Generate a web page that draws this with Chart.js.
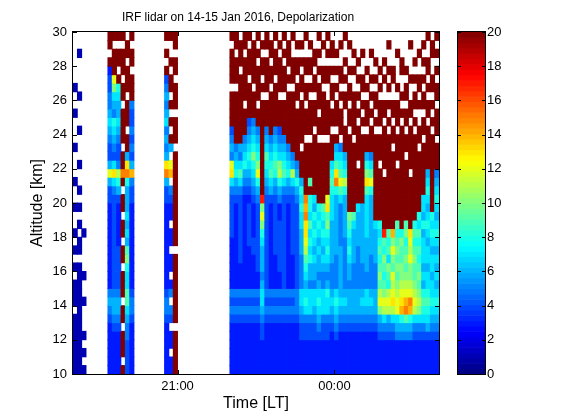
<!DOCTYPE html>
<html>
<head>
<meta charset="utf-8">
<title>IRF lidar depolarization</title>
<script src="https://cdn.jsdelivr.net/npm/chart.js@4.4.1/dist/chart.umd.min.js"></script>
<style>
    html, body { margin: 0; padding: 0; background: #fff; }
</style>
</head>
<body>
<canvas id="canvas" width="561" height="420"></canvas>
<script>
(function () {
    var titleText = 'IRF lidar on 14-15 Jan 2016, Depolarization';

    // time axis: minutes after 19:00 LT, one column every 5 min
    var colStep = 5;
    var spanMinutes = 420;
    var tickMinutes = [120, 300];
    var tickLabels = ['21:00', '00:00'];

    // altitude axis [km]
    var altBottom = 10;
    var altTop = 30;
    var altStep = 0.5;
    var altTickStep = 2;

    // colour scale
    var cbMin = 0;
    var cbMax = 20;
    var cbStep = 2;

    // one profile per 5 min column, 30 km first down to 10 km (40 cells of 0.5 km)
    // '.' = no data, '0'-'9' then 'A'-'K' = depolarization 0 .. 20
    var codes = '0123456789ABCDEFGHIJK';
    var profiles = [
        '......1..1 ...1...1.. 1..1.1.1.1 11.1111111', // 19:00
        '..1....1.. .1...1..1. 1.1.11.111 1111111111',
        '.......... .......... ...1....1. .1...1.1.1',
        '', '', '', '', '',
        'KK.K344556 765446C644 3333333333 5654333333', // 19:40
        'K.KKKCA765 876547D754 4444444444 5665433333',
        'K.KK.K8766 765445B864 3333344444 5665433333',
        'K.KKK.KK.K KKK.KKFK.K K.KK.KK.KK K.KK.KKK.K',
        '.KK.KKK.KK K.KK6DF866 676769A877 9976554444',
        'K.KK.KKK54 454546E544 3333333333 4554333333',
        '', '', '', '', '', '', '',
        'K.K.K45656 75656DF644 3333333333 4554333333', // 20:45
        'K..K.KK.K. K.K6.CE.54 33.33.33.3 5.54.33.33',
        'KK.KK.KKK. KKK.KKKKKK KKKKK.KKKK KKKK.KKKKK',
        '', '', '', '', '', '', '', '', '', '', '', '',
        'K.KKKK.KKK K4565CD754 4444333333 5454333333', // 22:00
        'KK.KKK.KKK KKK5678654 3333333333 5454333333',
        '.KKK.KKKKK KKK6579754 4444444333 5454333333',
        'KK.KKKKK.K KK56786543 3333333333 5454333333',
        'K.KKK.KKKK 4567876543 4444433333 5454333333',
        '.KKKKK.KKK 5678A87654 3333443333 5454333333',
        'K.K.KKKK.K K5678AC865 4444444433 5454333333',
        '.K.KK.K.KK KKKKKKKKKH ACA8766656 7765443333',
        'KK.KKKK.KK K567987654 4444444444 5454333333',
        '.KK.KK.KKK KK56789764 3333333333 5454333333',
        'K.KKK.KKKK K567898654 4444443333 5454333333',
        '.K.KKKK.KK K4567AB865 3344444433 5454333333',
        'K.K.KKK.KK KK56789754 4444444444 5454333333', // 23:00
        '.KKK.K.KKK KKK5678654 3333333333 5454333333',
        'K..KKK.KKK KKKK56B754 4444443333 5454333333',
        '.K.KK.KK.K KKKKK56865 4444444444 5554333333',
        '.K.K.KK.KK KKK.KKK687 8776665555 7765443333',
        'K..KK.KK.K KK.KKKKKKF EFDDCB9876 7875443333',
        '.K.KK.K.KK KK.KKKK9K8 8797878665 7775443333',
        '..KK.KK.KK K.KKKKKKK7 6878767665 7765443333',
        'K.K.K.KKK. KK.KKKKKKK 8787676656 7876543333',
        '.K..KK.KKK KK.KKKKKKK 9878767655 7775443333',
        'K.K.KK..KK KK.KKKKKKC D9A8787656 8775443333',
        '.KK.K.KK.K K.KKK78987 7766666555 6765433333',
        '..K.K.K.KK K.K679DF86 6666665555 7876543333', // 00:00
        '.K..KK.K.K KK.5789C97 5555566666 6765433333',
        'K..K.K.KK. .KKK678B86 6666555555 6765433333',
        '.K..K.KK.K K.KKKKKKKK KA98787665 6665433333',
        '..K.K..KKK KK.KKKKKKK K976666555 6665433333',
        '...K.K.K.K .KKKK.KKKK 7666655555 6665433333',
        '..K..KK.K. K.KKKKKKKK 6666666555 6765433333',
        '....K.K.KK K.KK68AD97 7777666655 7765433333',
        '..K..K.K.K .KKK579C86 6666665555 6765433333',
        '...K.K.KK. K.KKKKKKKK KK76666555 6665433333',
        '....K.K.KK K.KKK.KKKK KK878989A9 BCA6543333',
        '...K.K..KK .KKKKK.KKK KKKH98A989 ACB7543333',
        '.K..K.K.K. K.KKKKKKKK KKK9897A98 BCB6543333', // 01:00
        '....KK..KK .KK.KKKKKK KKKEACA9CB CDB7543333',
        '..K...K.KK K.KKK.KKKK KK989A9A9A BCC7653333',
        '...KK..K.K .KKKKKKKKK KKK8A99AAB CDE8653333',
        '....K.KK.K K.KK.KKKKK KK9A89A9AB CEF9653333',
        '.K...K..KK .KKKKK.KKK KKKDCBCAAB CFE8653333',
        '...K.K.KK. K.KKKKKKKK KK8989A99A BCB7543333',
        '..K..KK.K. .KK.KKKKKK K8798989A9 ABA7543333',
        '.K.K.K.KK. KK.KKKKKK7 7686777676 8987543333',
        'K..KK.K.KK .KKKKK6787 6787677677 8987643333',
        '.KK..KK.K. K.KKKKKKKK K878767767 7876543333',
        'K.K.K.KK.K KK.KKK5678 7678767676 7876543333'
    ];

    var fontFamily = '"Liberation Sans", Arial, sans-serif';

    function jet(v) {
        var t = Math.max(0, Math.min(1, (v - cbMin) / (cbMax - cbMin)));
        function c(x) {
            return Math.round(255 * Math.max(0, Math.min(1, 1.5 - Math.abs(4 * t - x))));
        }
        return 'rgb(' + c(3) + ',' + c(2) + ',' + c(1) + ')';
    }

    function cellColor(c) {
        return c.raw ? jet(c.raw.v) : 'rgba(0,0,0,0)';
    }

    function buildDatasets() {
        var cols = profiles.map(function (p) { return p.replace(/ /g, ''); });
        var nRows = Math.round((altTop - altBottom) / altStep);
        var sets = [];
        for (var r = 0; r < nRows; r++) {
            var hi = altTop - r * altStep;
            var lo = hi - altStep;
            var data = [];
            cols.forEach(function (col, i) {
                var ch = col.charAt(r);
                var v = codes.indexOf(ch);
                if (ch && v >= 0) {
                    data.push({x: i * colStep + colStep / 2, y: [lo, hi], v: v});
                }
            });
            sets.push({
                label: lo + '-' + hi + ' km',
                data: data,
                backgroundColor: cellColor,
                borderColor: cellColor,
                borderWidth: 0,
                grouped: false,
                barPercentage: 1,
                categoryPercentage: 1,
                inflateAmount: 0.4
            });
        }
        return sets;
    }

    var framePlugin = {
        id: 'frame',
        afterDraw: function (chart) {
            var ctx = chart.ctx;
            var a = chart.chartArea;
            var xs = chart.scales.x, ys = chart.scales.y, cb = chart.scales.cb;
            ctx.save();

            // colour bar
            var bx = a.right + 19, bw = 27, n = 64;
            for (var k = 0; k < n; k++) {
                var v0 = cbMin + (cbMax - cbMin) * k / n;
                var v1 = cbMin + (cbMax - cbMin) * (k + 1) / n;
                var p0 = cb.getPixelForValue(v0), p1 = cb.getPixelForValue(v1);
                ctx.fillStyle = jet((v0 + v1) / 2);
                ctx.fillRect(bx, p1, bw, p0 - p1 + 0.6);
            }
            ctx.strokeStyle = '#000';
            ctx.lineWidth = 1;
            ctx.strokeRect(bx - 0.5, cb.top - 0.5, bw + 1, cb.bottom - cb.top + 1);
            ctx.beginPath();
            for (var v = cbMin; v <= cbMax; v += cbStep) {
                var py = Math.round(cb.getPixelForValue(v)) + 0.5;
                ctx.moveTo(bx, py); ctx.lineTo(bx + 3, py);
                ctx.moveTo(bx + bw - 3, py); ctx.lineTo(bx + bw, py);
            }
            ctx.stroke();

            // axes box with inward ticks
            ctx.strokeRect(a.left - 0.5, a.top - 0.5, a.right - a.left + 1, a.bottom - a.top + 1);
            ctx.beginPath();
            for (var t = altBottom; t <= altTop; t += altTickStep) {
                var ty = Math.round(ys.getPixelForValue(t)) + 0.5;
                ctx.moveTo(a.left, ty); ctx.lineTo(a.left + 4, ty);
                ctx.moveTo(a.right - 4, ty); ctx.lineTo(a.right, ty);
            }
            tickMinutes.forEach(function (m) {
                var tx = Math.round(xs.getPixelForValue(m)) + 0.5;
                ctx.moveTo(tx, a.bottom); ctx.lineTo(tx, a.bottom - 4);
                ctx.moveTo(tx, a.top); ctx.lineTo(tx, a.top + 4);
            });
            ctx.stroke();

            // title
            ctx.fillStyle = '#000';
            ctx.font = '12px ' + fontFamily;
            ctx.textAlign = 'center';
            ctx.textBaseline = 'middle';
            ctx.fillText(titleText, 238, 18);
            ctx.restore();
        }
    };

    Chart.defaults.color = '#000';
    Chart.defaults.font.family = fontFamily;

    var ctx = document.getElementById('canvas').getContext('2d');
    var chart = new Chart(ctx, {
        type: 'bar',
        data: {datasets: buildDatasets()},
        options: {
            responsive: false,
            animation: false,
            events: [],
            layout: {padding: {top: 32, left: 0, right: 0, bottom: 0}},
            plugins: {
                colors: {enabled: false},
                legend: {display: false},
                tooltip: {enabled: false},
                title: {display: false}
            },
            scales: {
                x: {
                    type: 'linear',
                    min: 0,
                    max: spanMinutes,
                    offset: false,
                    grid: {display: false, offset: false, drawTicks: false},
                    border: {display: false},
                    afterBuildTicks: function (s) {
                        s.ticks = tickMinutes.map(function (m) { return {value: m}; });
                    },
                    afterFit: function (s) { s.height = 46; },
                    ticks: {
                        autoSkip: false,
                        maxRotation: 0,
                        padding: 5,
                        font: {size: 13},
                        callback: function (v) {
                            var k = tickMinutes.indexOf(v);
                            return k >= 0 ? tickLabels[k] : '';
                        }
                    },
                    title: {
                        display: true,
                        text: 'Time [LT]',
                        font: {size: 16},
                        padding: {top: 0, bottom: 7}
                    }
                },
                y: {
                    type: 'linear',
                    min: altBottom,
                    max: altTop,
                    beginAtZero: false,
                    grid: {display: false, drawTicks: false},
                    border: {display: false},
                    afterFit: function (s) { s.width = 73; },
                    ticks: {stepSize: altTickStep, padding: 6, font: {size: 13}},
                    title: {
                        display: true,
                        text: 'Altitude [km]',
                        font: {size: 16},
                        padding: {top: 28, bottom: 0}
                    }
                },
                cb: {
                    type: 'linear',
                    axis: 'y',
                    position: 'right',
                    min: cbMin,
                    max: cbMax,
                    grid: {display: false, drawTicks: true, tickLength: 48},
                    border: {display: false},
                    afterFit: function (s) { s.width = 122; },
                    ticks: {stepSize: cbStep, padding: 0, font: {size: 13}}
                }
            }
        },
        plugins: [framePlugin]
    });
})();
</script>
</body>
</html>
